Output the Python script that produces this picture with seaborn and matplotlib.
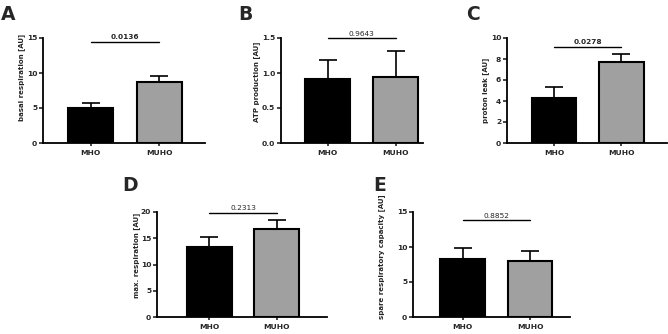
import matplotlib
matplotlib.use("Agg")
import matplotlib.pyplot as plt
import seaborn as sns
import pandas as pd

sns.set_theme(style="ticks")
plt.rcParams['font.family'] = ['DejaVu Sans']

groups = ["MHO", "MUHO"]
colors = ["#000000", "#a0a0a0"]

basal_mean = [5.0, 8.7]
basal_err = [0.7, 0.9]
atp_mean = [0.92, 0.94]
atp_err = [0.27, 0.37]
leak_mean = [4.32, 7.73]
leak_err = [1.0, 0.79]
maxr_mean = [13.3, 16.7]
maxr_err = [1.95, 1.8]
spare_mean = [8.3, 8.0]
spare_err = [1.55, 1.4]

pvals = ["0.0136", "0.9643", "0.0278", "0.2313", "0.8852"]
pbold = [True, False, True, False, False]
ylabels = ["basal respiration [AU]", "ATP production [AU]", "proton leak [AU]",
           "max. respiration [AU]", "spare respiratory capacity [AU]"]
letters = ["A", "B", "C", "D", "E"]
yticks = [[0, 5, 10, 15], [0.0, 0.5, 1.0, 1.5], [0, 2, 4, 6, 8, 10],
          [0, 5, 10, 15, 20], [0, 5, 10, 15]]
ytick_labels = [["0", "5", "10", "15"], ["0.0", "0.5", "1.0", "1.5"],
                ["0", "2", "4", "6", "8", "10"], ["0", "5", "10", "15", "20"],
                ["0", "5", "10", "15"]]
sig_y = [14.5, 1.5, 9.15, 19.9, 13.8]

means = [basal_mean, atp_mean, leak_mean, maxr_mean, spare_mean]
errs = [basal_err, atp_err, leak_err, maxr_err, spare_err]

W, H = 668, 334
# pixel boxes: left, right, top, bottom
boxes = [(43, 205, 38, 143), (281, 423, 38, 143), (507, 667, 38, 143),
         (157, 327, 212, 317), (413, 570, 212, 317)]
xlims = [(-0.70, 1.67), (-0.684, 1.40), (-0.696, 1.674), (-0.78, 1.75), (-0.733, 1.59)]
letter_pos = [(1, 20), (238, 20), (466, 20), (122, 191), (373, 191)]
ylabel_px = [(22, 77), (257, 82), (486, 90), (137, 255), (382, 257)]

fig = plt.figure(figsize=(W / 100, H / 100), dpi=100)

for i in range(5):
    l, r, t, b = boxes[i]
    ax = fig.add_axes([l / W, 1 - b / H, (r - l) / W, (b - t) / H])
    df = pd.DataFrame({"group": groups, "value": means[i]})
    sns.barplot(data=df, x="group", y="value", hue="group", palette=colors,
                edgecolor="black", linewidth=1.5, width=0.66, legend=False,
                errorbar=None, ax=ax, zorder=2)
    ax.errorbar([0, 1], means[i], yerr=[[0, 0], errs[i]], fmt="none",
                ecolor="black", elinewidth=1.2, capsize=6.5, capthick=1.2, zorder=1)
    ymax = yticks[i][-1]
    ax.set_ylim(0, ymax)
    ax.set_xlim(*xlims[i])
    ax.set_yticks(yticks[i])
    ax.set_yticklabels(ytick_labels[i], fontsize=5.4, fontweight="bold")
    ax.set_xticks([0, 1])
    ax.set_xticklabels(groups, fontsize=5.4, fontweight="bold")
    ax.set_xlabel("")
    ax.set_ylabel(ylabels[i], fontsize=5.0, fontweight="bold", va="center")
    lx_px, ly_px = ylabel_px[i]
    ax.yaxis.set_label_coords((lx_px - l) / (r - l), (b - ly_px) / (b - t))
    ax.tick_params(axis="x", length=2.2, width=1.2, pad=3)
    ax.tick_params(axis="y", length=3.2, width=1.2, pad=1)
    for s in ["top", "right"]:
        ax.spines[s].set_visible(False)
    for s in ["left", "bottom"]:
        ax.spines[s].set_linewidth(1.3)
        ax.spines[s].set_color("black")
    ax.plot([0, 1], [sig_y[i], sig_y[i]], color="black", lw=1.0, clip_on=False)
    ax.annotate(pvals[i], xy=(0.5, sig_y[i]), xytext=(0, 1.8),
                textcoords="offset points", ha="center", va="baseline",
                fontsize=5.3, fontweight="bold" if pbold[i] else "normal",
                annotation_clip=False)
    lx, ly = letter_pos[i]
    fig.text(lx / W, 1 - ly / H, letters[i], fontsize=13.5, fontweight="bold",
             ha="left", va="baseline")

fig.savefig("out.png", dpi=100)
